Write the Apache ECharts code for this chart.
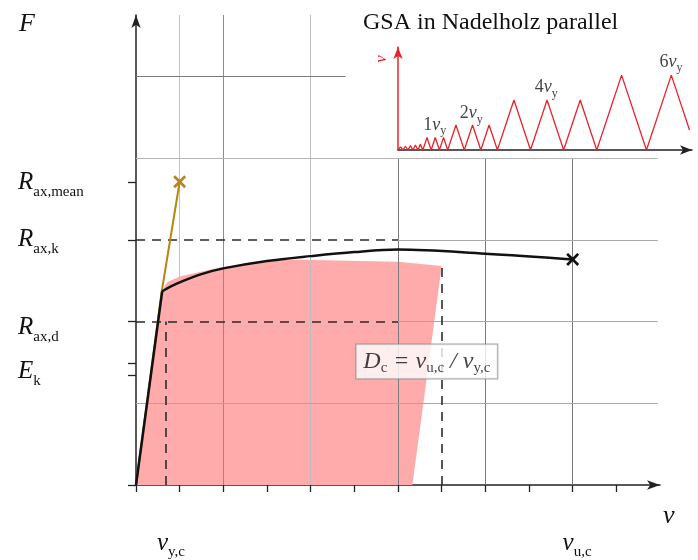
<!DOCTYPE html>
<html>
<head>
<meta charset="utf-8">
<script src="https://cdn.jsdelivr.net/npm/echarts@6/dist/echarts.min.js"></script>
<style>
html, body { margin: 0; background: #fff; }
#main { width: 698px; height: 560px; }
</style>
</head>
<body>
<div id="main"></div>
<script>
// main diagram, F over v, in grid units
const curveV = [0, 0.6, 0.8, 1.0, 1.5, 2.0, 3.0, 4.0, 5.0, 6.0, 8.0, 10.0];
const curveF = [0, 2.37, 2.43, 2.48, 2.58, 2.65, 2.74, 2.80, 2.85, 2.88, 2.83, 2.76];
const goldV = [0, 0.59, 1.0];
const goldF = [0, 2.37, 3.71];
const pinkV = [0, 0.6, 0.71, 1.0, 2.0, 3.5, 6.0, 7.0, 6.33];
const pinkF = [0, 2.37, 2.48, 2.55, 2.67, 2.76, 2.73, 2.68, 0];
const ultimate = [10.0, 2.76];
const meanPoint = [1.0, 3.71];

// axis ticks and labels
const xTickVals = [0, 1, 2, 3, 4, 5, 6, 7, 8, 9, 10, 11];
const xLabelVals = [0.8, 10.1];
const xLabelText = ['{r|v}{s|y,c}', '{r|v}{s|u,c}'];
const yTickVals = [0, 1.34, 1.49, 2, 3, 3.7];
const yLabelVals = [1.39, 1.93, 3.0, 3.7];
const yLabelText = ['{r|E}{s|k}', '{r|R}{s|ax,d}', '{r|R}{s|ax,k}', '{r|R}{s|ax,mean}'];

// grid lines [at, from, to]
const gridVert = [[1, 0, 5.75], [2, 0, 5.75], [4, 0, 5.75], [6, 0, 4], [8, 0, 4], [10, 0, 4]];
const gridVertColor = ['#c4c4c4', '#8c8c8c', '#bdbdbd', '#7a7a7a', '#7a7a7a', '#7a7a7a'];
const gridHorz = [[1, 0, 11.95], [2, 6, 11.95], [3, 6, 11.95], [4, 0, 11.95], [5, 0, 4.8]];
const gridHorzColor = ['#a8a8a8', '#a8a8a8', '#a8a8a8', '#b4b4b4', '#7a7a7a'];
// dashed guides
const dashHorz = [[3, 0, 6], [2, 0, 6]];
const dashVert = [[0.67, 0, 2], [7.0, 0, 2.7]];

const boxPos = [6.66, 1.51];

// inset: cyclic loading protocol (x = time, y in multiples of v_y)
const sawT = [0, 0.6, 1.2, 1.8, 2.4, 3.0, 3.6, 4.2, 4.8, 5.4, 6.0,
  7, 8, 9, 10, 11, 12,
  14, 16, 18, 20, 22, 24,
  28, 32, 36, 40, 44, 48,
  54, 60, 66, 70.4];
const sawV = [0, 0.25, 0, 0.3, 0, 0.35, 0, 0.4, 0, 0.45, 0,
  1, 0, 1, 0, 1, 0,
  2, 0, 2, 0, 2, 0,
  4, 0, 4, 0, 4, 0,
  6, 0, 6, 1.6];
const insetLabelPos = [[8.9, 2.0], [17.7, 2.93], [35.8, 5.0], [65.9, 7.06]];
const insetLabelText = ['{n|1}{v|v}{s|y}', '{n|2}{v|v}{s|y}', '{n|4}{v|v}{s|y}', '{n|6}{v|v}{s|y}'];

const serif = 'Liberation Serif';
const ink = '#111';
const richMain = {
    r: { fontFamily: serif, fontStyle: 'italic', fontSize: 25, lineHeight: 34, color: ink },
    s: { fontFamily: serif, fontSize: 15, lineHeight: 15, color: ink, verticalAlign: 'bottom' }
};
const xMark = 'path://M0,1.5L1.5,0L5,3.5L8.5,0L10,1.5L6.5,5L10,8.5L8.5,10L5,6.5L1.5,10L0,8.5L3.5,5Z';

function pick(vals, texts, value) {
    for (let i = 0; i < vals.length; i++) {
        if (Math.abs(vals[i] - value) < 1e-6) return texts[i];
    }
    return '';
}

let guides = [];
gridVert.forEach((g, i) => guides.push({ coords: [[g[0], g[1]], [g[0], g[2]]], lineStyle: { color: gridVertColor[i], width: 1, opacity: 1 } }));
gridHorz.forEach((g, i) => guides.push({ coords: [[g[1], g[0]], [g[2], g[0]]], lineStyle: { color: gridHorzColor[i], width: 1, opacity: 1 } }));
let dashes = [];
dashHorz.forEach(g => dashes.push({ coords: [[g[1], g[0]], [g[2], g[0]]] }));
dashVert.forEach(g => dashes.push({ coords: [[g[0], g[1]], [g[0], g[2]]] }));

// the rise is straight, the plateau after the bend is a smooth curve
const curvePts = curveV.map((v, i) => [v, curveF[i]]);

const chart = echarts.init(document.getElementById('main'));
chart.setOption({
    animation: false,
    backgroundColor: '#fff',
    textStyle: { fontFamily: serif },
    title: {
        text: 'GSA in Nadelholz parallel',
        left: 363, top: 11, padding: 0,
        textStyle: { fontFamily: serif, fontWeight: 'normal', fontSize: 24, color: ink }
    },
    grid: [
        { left: 136, top: 15, width: 524, height: 471 },
        { left: 398, top: 47, width: 294, height: 103 }
    ],
    xAxis: [{
        type: 'value', gridIndex: 0, min: 0, max: 12,
        name: 'v', nameLocation: 'end', nameGap: 3,
        nameTextStyle: { fontFamily: serif, fontStyle: 'italic', fontSize: 26, color: ink, align: 'left', verticalAlign: 'top', padding: [18, 0, 0, 0] },
        axisLine: { lineStyle: { color: '#222', width: 1.5 }, symbol: ['none', 'arrow'], symbolSize: [7, 13] },
        axisTick: { customValues: xTickVals, length: 7, lineStyle: { color: '#222', width: 1.3 } },
        axisLabel: {
            customValues: xLabelVals, margin: 41,
            formatter: v => pick(xLabelVals, xLabelText, v),
            rich: richMain
        },
        splitLine: { show: false }
    }, {
        type: 'value', gridIndex: 1, min: 0, max: 71,
        axisLine: { lineStyle: { color: '#222', width: 1.5 }, symbol: ['none', 'arrow'], symbolSize: [7, 12] },
        axisTick: { show: false }, axisLabel: { show: false }, splitLine: { show: false }
    }],
    yAxis: [{
        type: 'value', gridIndex: 0, min: 0, max: 5.75,
        name: 'F', nameLocation: 'end', nameGap: -9,
        nameTextStyle: { fontFamily: serif, fontStyle: 'italic', fontSize: 26, color: ink, align: 'right', verticalAlign: 'middle', padding: [0, 101, 0, 0] },
        axisLine: { lineStyle: { color: '#222', width: 1.5 }, symbol: ['none', 'arrow'], symbolSize: [7, 13] },
        axisTick: { customValues: yTickVals, length: 8, lineStyle: { color: '#222', width: 1.3 } },
        axisLabel: {
            customValues: yLabelVals, margin: 118, align: 'left',
            formatter: v => pick(yLabelVals, yLabelText, v),
            rich: richMain
        },
        splitLine: { show: false }
    }, {
        type: 'value', gridIndex: 1, min: 0, max: 8.25,
        name: 'v', nameLocation: 'end', nameGap: -12, nameRotate: 90,
        nameTextStyle: { fontFamily: serif, fontStyle: 'italic', fontSize: 17, color: '#e8232b', align: 'center', verticalAlign: 'bottom', padding: [0, 0, 8, 0] },
        axisLine: { lineStyle: { color: '#e8232b', width: 1.5 }, symbol: ['none', 'arrow'], symbolSize: [7, 12] },
        axisTick: { show: false }, axisLabel: { show: false }, splitLine: { show: false }
    }],
    series: [{
        type: 'custom', name: 'pink', xAxisIndex: 0, yAxisIndex: 0, z: 1, silent: true,
        data: [[0, 0]],
        renderItem: function (params, api) {
            const pts = pinkV.map((v, i) => api.coord([v, pinkF[i]]));
            return { type: 'polygon', shape: { points: pts }, style: { fill: '#ffabab' } };
        }
    }, {
        type: 'lines', coordinateSystem: 'cartesian2d', xAxisIndex: 0, yAxisIndex: 0, z: 2, silent: true,
        data: guides
    }, {
        type: 'lines', coordinateSystem: 'cartesian2d', xAxisIndex: 0, yAxisIndex: 0, z: 3, silent: true,
        lineStyle: { color: '#2a2a2a', width: 1.6, type: [9, 7], opacity: 1 },
        data: dashes
    }, {
        type: 'line', name: 'mean', xAxisIndex: 0, yAxisIndex: 0, z: 4, silent: true,
        data: goldV.map((v, i) => [v, goldF[i]]),
        showSymbol: false, lineStyle: { color: '#b8860f', width: 2 }
    }, {
        type: 'line', name: 'rise', xAxisIndex: 0, yAxisIndex: 0, z: 5, silent: true,
        data: curvePts.slice(0, 2),
        showSymbol: false, lineStyle: { color: '#111', width: 2.5 }
    }, {
        type: 'line', name: 'curve', xAxisIndex: 0, yAxisIndex: 0, z: 5, silent: true,
        data: curvePts.slice(1), smooth: 0.35,
        showSymbol: false, lineStyle: { color: '#111', width: 2.5 }
    }, {
        type: 'scatter', xAxisIndex: 0, yAxisIndex: 0, z: 6, silent: true,
        symbol: xMark,
        data: [
            { value: ultimate, symbolSize: 13, itemStyle: { color: '#111', opacity: 1 } },
            { value: meanPoint, symbolSize: 13, itemStyle: { color: '#b8842a', opacity: 1 } }
        ]
    }, {
        type: 'scatter', xAxisIndex: 0, yAxisIndex: 0, z: 7, silent: true,
        symbolSize: 0,
        data: [boxPos],
        label: {
            show: true, position: 'inside',
            formatter: '{r|D}{s|c}{r| = v}{s|u,c}{r| / v}{s|y,c}',
            backgroundColor: '#fff', borderColor: '#8a8a8a', borderWidth: 1, padding: [3, 7],
            rich: {
                r: { fontFamily: serif, fontStyle: 'italic', fontSize: 24, lineHeight: 28, color: ink },
                s: { fontFamily: serif, fontSize: 15, lineHeight: 15, color: ink, verticalAlign: 'bottom' }
            }
        }
    }, {
        type: 'line', name: 'protocol', xAxisIndex: 1, yAxisIndex: 1, z: 4, silent: true,
        data: sawT.map((t, i) => [t, sawV[i]]),
        showSymbol: false, lineStyle: { color: '#e8232b', width: 1.3 }
    }, {
        type: 'scatter', xAxisIndex: 1, yAxisIndex: 1, z: 6, silent: true,
        symbolSize: 0,
        data: insetLabelPos,
        label: {
            show: true, position: 'inside',
            formatter: p => insetLabelText[p.dataIndex],
            rich: {
                n: { fontFamily: serif, fontSize: 18, lineHeight: 24, color: ink },
                v: { fontFamily: serif, fontStyle: 'italic', fontSize: 18, lineHeight: 24, color: ink },
                s: { fontFamily: serif, fontSize: 12, lineHeight: 12, color: ink, verticalAlign: 'bottom' }
            }
        }
    }]
});
</script>
</body>
</html>
